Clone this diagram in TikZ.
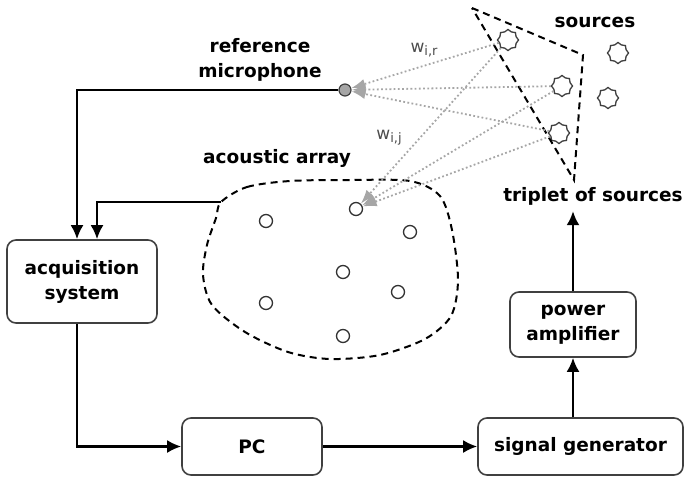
\documentclass[tikz,border=0pt]{standalone}
\usepackage{fontspec}
\setmainfont{DejaVu Sans}
\usepackage{tikz}
\usetikzlibrary{arrows.meta,shapes.geometric}

\newcommand\boxfont{\fontsize{18.5}{25}\selectfont\bfseries}
\newcommand\wfont{\fontsize{17}{18}\selectfont}
\newcommand\wsub[1]{\raisebox{-0.35ex}{\fontsize{13}{13}\selectfont#1}}

\tikzset{
	blk/.style={draw=black!75,line width=1.6pt,rounded corners=9pt,align=center,font=\boxfont,inner sep=0pt},
	lbl/.style={font=\boxfont,align=center,inner sep=0pt},
	wlbl/.style={font=\wfont,text=black!70,inner sep=0pt},
	wire/.style={line width=2.4pt,-{Latex[length=14pt,width=13pt]}},
	ray/.style={draw=black!35,line width=1.8pt,dash pattern=on 1.8pt off 2.4pt,-{Latex[length=14pt,width=10pt]}},
	src/.style={star,star points=8,star point ratio=1.2,draw=black!75,line width=1.3pt,minimum size=21pt,inner sep=0pt},
	mic/.style={circle,draw=black!75,fill=black!35,line width=1.2pt,minimum size=12pt,inner sep=0pt},
	sensor/.style={circle,draw=black!80,line width=1.3pt,minimum size=13pt,inner sep=0pt},
	zone/.style={line width=2pt,dash pattern=on 7pt off 5pt}
}

\begin{document}
\begin{tikzpicture}[x=1pt,y=-1pt]
\useasboundingbox (0,0) rectangle (685,479);

% blocks
\node[blk,minimum width=150pt,minimum height=83pt] (acq) at (82,281.5) {acquisition\\system};
\node[blk,minimum width=140pt,minimum height=57pt] (pc) at (252,446.5) {PC};
\node[blk,minimum width=205pt,minimum height=57pt] (gen) at (580.5,446.5) {signal generator};
\node[blk,minimum width=126pt,minimum height=65pt] (amp) at (573,324.5) {power\\amplifier};

% labels
\node[lbl] (srclbl) at (595,22) {sources};
\node[lbl] (trip) at (593,196) {triplet of sources};
\node[lbl] (miclbl) at (260,60) {reference\\microphone};
\node[lbl] (arrlbl) at (277,158) {acoustic array};
\node[wlbl] (wr) at (424,50) {w\wsub{i,r}};
\node[wlbl] (wj) at (389,138) {w\wsub{i,j}};

% sources and triplet
\foreach \n/\x/\y in {1/508/40,2/562/86,3/559/133,4/618/53,5/608/98}
	\node[src] (s\n) at (\x,\y) {};
\draw[zone] (472,8) -- (583,55) -- (574,180) -- cycle;

% microphone and array
\node[mic] (mic) at (345,90) {};
\foreach \n/\x/\y in {1/266/221,2/356/209,3/410/232,4/343/272,5/398/292,6/266/303,7/343/336}
	\node[sensor] (a\n) at (\x,\y) {};
\draw[zone] plot[smooth cycle] coordinates {(221,202) (247,187) (290,181) (350,180) (410,181) (440,196) (452,230) (458,280) (451,316) (425,339) (380,355) (330,359) (288,352) (245,332) (212,305) (203,275) (207,245) (216,218)};
\coordinate (tap) at (221,202);

% transfer paths
\foreach \n in {1,2,3}{
	\draw[ray] (s\n) -- (mic);
	\draw[ray] (s\n) -- (a2);
}

% signal chain
\draw[wire] (mic.west) -| ([xshift=-5pt]acq.north);
\draw[wire] (tap) -| ([xshift=15pt]acq.north);
\draw[wire] ([xshift=-5pt]acq.south) |- (pc.west);
\draw[wire] (pc) -- (gen);
\draw[wire] (gen.north -| amp.south) -- (amp.south);
\draw[wire,shorten >=6pt] (amp.north) -- (amp.north |- trip.south);
\end{tikzpicture}
\end{document}
